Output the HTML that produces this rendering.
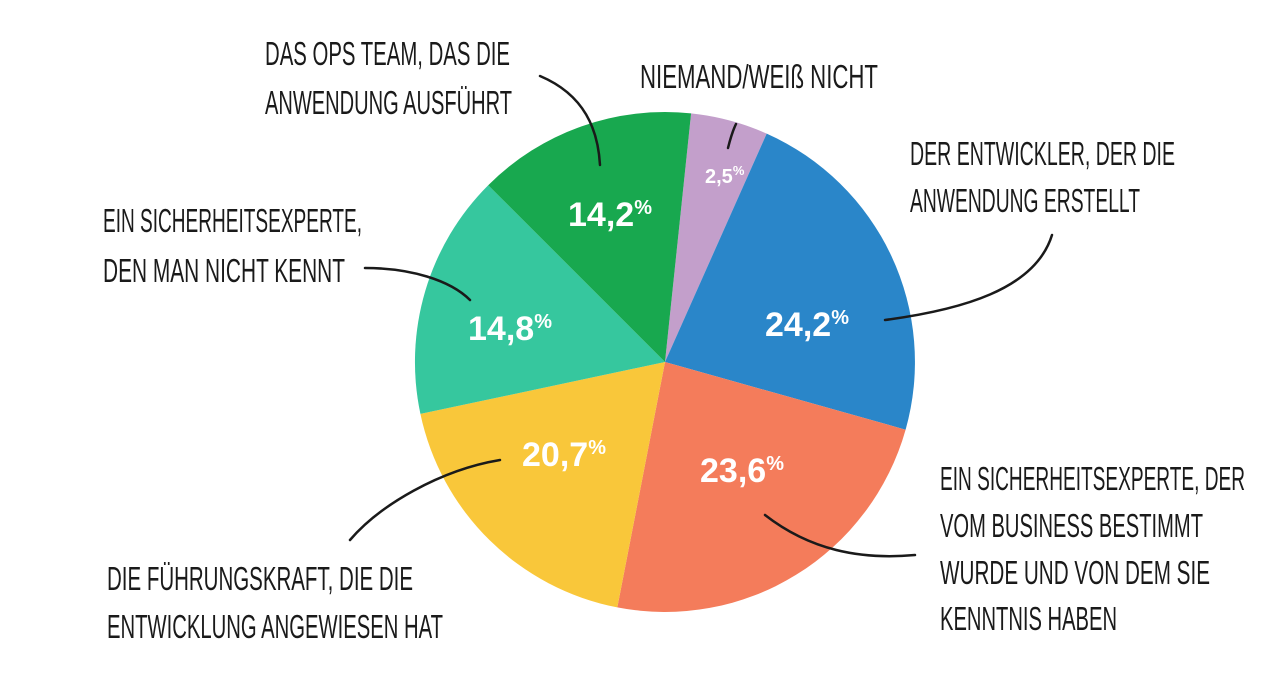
<!DOCTYPE html>
<html><head><meta charset="utf-8"><style>
html,body{margin:0;padding:0;background:#fff;}
svg{display:block}
.l{font-family:"Liberation Sans Narrow","Liberation Sans",sans-serif;font-size:33px;fill:#1a1a1a;}
.p{font-family:"Liberation Sans",sans-serif;font-weight:bold;fill:#fff;font-size:34px;}
.p tspan{font-size:20px;}
</style></head><body>
<svg width="1284" height="688" viewBox="0 0 1284 688" xmlns="http://www.w3.org/2000/svg">
<g transform="translate(665,362)">
<path d="M0,0 L26.1,-248.6 A250,250 0 0 1 101.7,-228.4 Z" fill="#c39fcb"/>
<path d="M0,0 L101.7,-228.4 A250,250 0 0 1 240.6,67.7 Z" fill="#2a86c9"/>
<path d="M0,0 L240.6,67.7 A250,250 0 0 1 -47.7,245.4 Z" fill="#f47c5b"/>
<path d="M0,0 L-47.7,245.4 A250,250 0 0 1 -244.6,51.9 Z" fill="#f9c73a"/>
<path d="M0,0 L-244.6,51.9 A250,250 0 0 1 -176.8,-176.8 Z" fill="#36c79e"/>
<path d="M0,0 L-176.8,-176.8 A250,250 0 0 1 26.1,-248.6 Z" fill="#18a84f"/>
</g>
<g fill="none" stroke="#1a1a1a" stroke-width="2.5" stroke-linecap="round">
<path d="M540,76 C585,95 598,130 600,165"/>
<path d="M736,124 C732,132 730,140 728,148"/>
<path d="M1052,235 C1035,290 960,310 885,320"/>
<path d="M365,268 C410,268 450,280 470,300"/>
<path d="M500,460 C440,470 380,505 350,540"/>
<path d="M765,515 C810,550 860,560 915,555"/>
</g>
<g class="l">
<text x="265" y="65" textLength="245" lengthAdjust="spacingAndGlyphs">DAS OPS TEAM, DAS DIE</text>
<text x="265" y="114" textLength="247" lengthAdjust="spacingAndGlyphs">ANWENDUNG AUSFÜHRT</text>
<text x="640" y="88" textLength="238" lengthAdjust="spacingAndGlyphs">NIEMAND/WEIß NICHT</text>
<text x="910" y="165" textLength="265" lengthAdjust="spacingAndGlyphs">DER ENTWICKLER, DER DIE</text>
<text x="910" y="212" textLength="230" lengthAdjust="spacingAndGlyphs">ANWENDUNG ERSTELLT</text>
<text x="103" y="232" textLength="259" lengthAdjust="spacingAndGlyphs">EIN SICHERHEITSEXPERTE,</text>
<text x="103" y="282" textLength="242" lengthAdjust="spacingAndGlyphs">DEN MAN NICHT KENNT</text>
<text x="940" y="490" textLength="305" lengthAdjust="spacingAndGlyphs">EIN SICHERHEITSEXPERTE, DER</text>
<text x="940" y="537" textLength="263" lengthAdjust="spacingAndGlyphs">VOM BUSINESS BESTIMMT</text>
<text x="940" y="584" textLength="270" lengthAdjust="spacingAndGlyphs">WURDE UND VON DEM SIE</text>
<text x="940" y="630" textLength="177" lengthAdjust="spacingAndGlyphs">KENNTNIS HABEN</text>
<text x="107" y="590" textLength="306" lengthAdjust="spacingAndGlyphs">DIE FÜHRUNGSKRAFT, DIE DIE</text>
<text x="107" y="638" textLength="336" lengthAdjust="spacingAndGlyphs">ENTWICKLUNG ANGEWIESEN HAT</text>
</g>
<g class="p">
<text x="568" y="226">14,2<tspan dy="-12">%</tspan></text>
<text x="705" y="183" style="font-size:20px">2,5<tspan dy="-8" style="font-size:13px">%</tspan></text>
<text x="765" y="336">24,2<tspan dy="-12">%</tspan></text>
<text x="468" y="340">14,8<tspan dy="-12">%</tspan></text>
<text x="522" y="466">20,7<tspan dy="-12">%</tspan></text>
<text x="700" y="482">23,6<tspan dy="-12">%</tspan></text>
</g>
</svg>
</body></html>
